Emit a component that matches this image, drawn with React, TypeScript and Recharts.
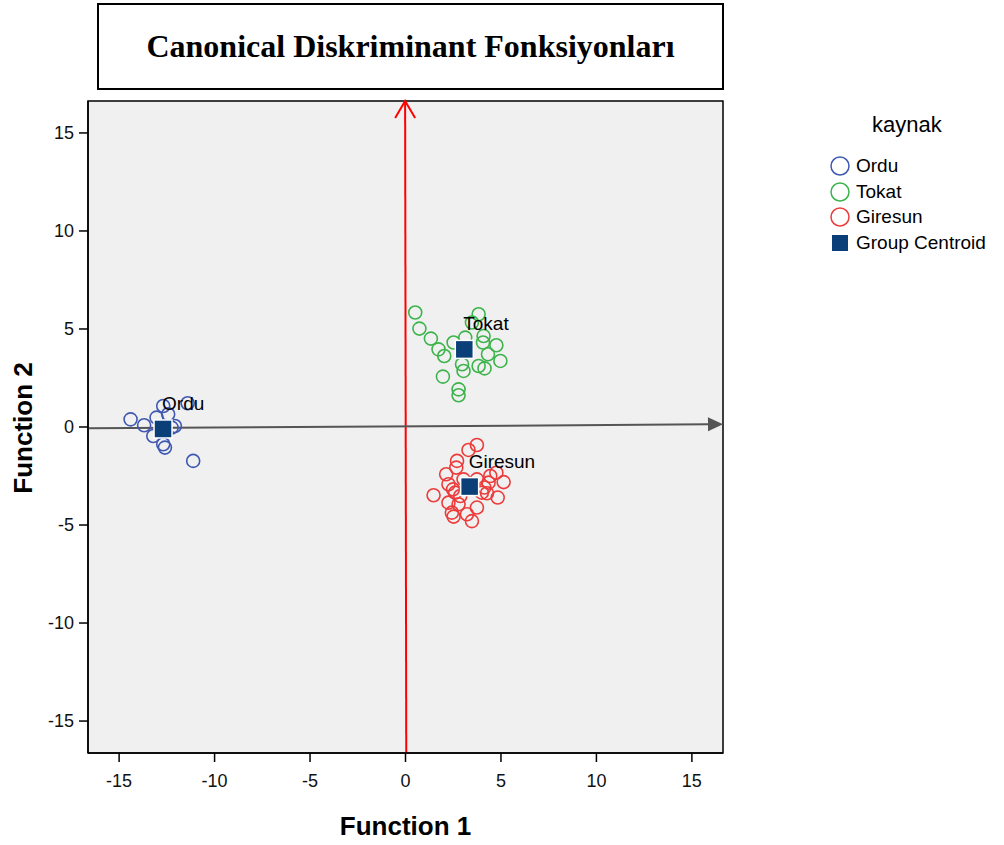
import React from 'react';
import {
  ScatterChart,
  Scatter,
  XAxis,
  YAxis,
  CartesianGrid,
  ReferenceLine,
  ReferenceArea
} from 'recharts';

// discriminant scores
const orduX = [-14.4, -13.69, -12.69, -11.41, -13.04, -12.43, -12.25, -13.21, -12.69, -12.6, -11.12, -12.08];
const orduY = [0.39, 0.09, 1.07, 1.21, 0.48, 0.65, -0.03, -0.46, -0.88, -1.05, -1.73, 0.05];

const tokatX = [0.51, 0.73, 1.33, 1.73, 2.03, 1.96, 2.78, 2.78, 2.96, 3.04, 3.13, 2.52, 3.83, 3.48, 4.09, 4.06, 4.76, 4.32, 4.97, 3.83, 4.14];
const tokatY = [5.84, 5.02, 4.51, 3.96, 3.62, 2.57, 1.92, 1.62, 3.2, 2.86, 4.56, 4.31, 5.75, 5.33, 4.64, 4.31, 4.17, 3.71, 3.37, 3.11, 2.99];

const giresunX = [3.74, 3.3, 2.7, 2.66, 2.13, 1.47, 2.25, 2.49, 2.6, 2.25, 2.43, 2.52, 2.78, 3.22, 3.48, 3.74, 4.0, 4.13, 4.44, 4.76, 5.14, 4.83, 4.35, 3.74, 3.04, 2.87, 4.27];
const giresunY = [-0.92, -1.17, -1.73, -2.07, -2.41, -3.48, -2.92, -3.18, -3.35, -3.86, -4.37, -4.57, -3.94, -4.45, -4.8, -4.11, -3.35, -3.09, -2.5, -2.33, -2.81, -3.6, -2.84, -2.67, -2.67, -3.52, -3.38];

const centroidNames = ['Ordu', 'Tokat', 'Giresun'];
const centroidX = [-12.7, 3.08, 3.36];
const centroidY = [-0.1, 3.96, -3.04];

// function axes drawn as arrows
const fn1AxisX = [-16.63, 16.63];
const fn1AxisY = [-0.07, 0.14];
const fn2AxisX = [0.04, -0.02];
const fn2AxisY = [-16.63, 16.63];

const ticks = [-15, -10, -5, 0, 5, 10, 15];
const DOMAIN: [number, number] = [-16.63, 16.63];

const FONT = '"Liberation Sans", Arial, sans-serif';

const toPoints = (xs: number[], ys: number[]) => xs.map((x, i) => ({ x, y: ys[i] }));

const groups = [
  { name: 'Ordu', color: '#3f58b2', data: toPoints(orduX, orduY) },
  { name: 'Tokat', color: '#3cb44b', data: toPoints(tokatX, tokatY) },
  { name: 'Giresun', color: '#ec3b3b', data: toPoints(giresunX, giresunY) }
];

const centroids = centroidNames.map((name, i) => ({ name, x: centroidX[i], y: centroidY[i] }));
const CENTROID_COLOR = '#0b3f78';

const circleShape = (color: string) => (props: any) => (
  <circle cx={props.cx} cy={props.cy} r={6.5} fill="none" stroke={color} strokeWidth={1.6} />
);

const centroidShape = (props: any) => (
  <g>
    <rect x={props.cx - 9} y={props.cy - 9} width={18} height={18} fill={CENTROID_COLOR} stroke="#fff" strokeWidth={1.5} />
    <text x={props.cx - 1} y={props.cy - 19} fontSize={19} fontFamily={FONT} fill="#000">
      {props.payload.name}
    </text>
  </g>
);

const grayArrow = (p: any) => {
  const { x1, y1, x2, y2 } = p;
  const a = Math.atan2(y2 - y1, x2 - x1);
  const len = 15;
  const hw = 7;
  const bx = x2 - len * Math.cos(a);
  const by = y2 - len * Math.sin(a);
  const px = -Math.sin(a) * hw;
  const py = Math.cos(a) * hw;
  return (
    <g>
      <line x1={x1} y1={y1} x2={bx} y2={by} stroke="#555" strokeWidth={2} />
      <polygon points={`${x2},${y2} ${bx + px},${by + py} ${bx - px},${by - py}`} fill="#555" />
    </g>
  );
};

const redArrow = (p: any) => {
  const { x1, y1, x2, y2 } = p;
  const a = Math.atan2(y2 - y1, x2 - x1);
  const len = 17;
  const hw = 10;
  const bx = x2 - len * Math.cos(a);
  const by = y2 - len * Math.sin(a);
  const px = -Math.sin(a) * hw;
  const py = Math.cos(a) * hw;
  return (
    <g>
      <line x1={x1} y1={y1} x2={x2} y2={y2} stroke="#ff0000" strokeWidth={2} />
      <polyline
        points={`${bx + px},${by + py} ${x2},${y2} ${bx - px},${by - py}`}
        fill="none"
        stroke="#ff0000"
        strokeWidth={2}
      />
    </g>
  );
};

const xTitle = (props: any) => {
  const { x, width } = props.viewBox;
  return (
    <text x={x + width / 2} y={835} textAnchor="middle" fontSize={26} fontWeight="bold" fontFamily={FONT} fill="#000">
      Function 1
    </text>
  );
};

const yTitle = () => (
  <text
    x={32}
    y={428}
    transform="rotate(-90 32 428)"
    textAnchor="middle"
    fontSize={26}
    fontWeight="bold"
    fontFamily={FONT}
    fill="#000"
  >
    Function 2
  </text>
);

function Legend() {
  const items = [
    ...groups.map((g) => ({ name: g.name, color: g.color, square: false })),
    { name: 'Group Centroid', color: CENTROID_COLOR, square: true }
  ];
  return (
    <div style={{ position: 'absolute', left: 828, top: 112, fontFamily: FONT }}>
      <div style={{ position: 'absolute', left: 44, top: 0, fontSize: 22, whiteSpace: 'nowrap' }}>kaynak</div>
      {items.map((it, i) => (
        <div
          key={it.name}
          style={{ position: 'absolute', left: 0, top: 42 + i * 25.5, display: 'flex', alignItems: 'center', whiteSpace: 'nowrap' }}
        >
          <svg width={24} height={24}>
            {it.square ? (
              <rect x={4} y={4} width={16} height={16} fill={it.color} />
            ) : (
              <circle cx={12} cy={12} r={9} fill="none" stroke={it.color} strokeWidth={1.5} />
            )}
          </svg>
          <span style={{ fontSize: 19, marginLeft: 4 }}>{it.name}</span>
        </div>
      ))}
    </div>
  );
}

export default function App() {
  return (
    <div style={{ position: 'absolute', left: 0, top: 0, width: 1004, height: 845, background: '#fff' }}>
      <div
        style={{
          position: 'absolute',
          left: 97,
          top: 3,
          width: 623,
          height: 83,
          border: '2px solid #000',
          display: 'flex',
          alignItems: 'center',
          justifyContent: 'center',
          fontFamily: '"Liberation Serif", "Times New Roman", serif',
          fontWeight: 'bold',
          fontSize: 32
        }}
      >
        Canonical Diskriminant Fonksiyonları
      </div>
      <ScatterChart width={1004} height={845} margin={{ top: 101, right: 281, bottom: 52, left: 28 }}>
        <CartesianGrid fill="#f0f0f0" horizontal={false} vertical={false} />
        <ReferenceArea
          x1={DOMAIN[0]}
          x2={DOMAIN[1]}
          y1={DOMAIN[0]}
          y2={DOMAIN[1]}
          fill="none"
          stroke="#000"
          strokeWidth={1.5}
          ifOverflow="visible"
        />
        <XAxis
          type="number"
          dataKey="x"
          domain={DOMAIN}
          ticks={ticks}
          allowDataOverflow
          height={40}
          tickSize={9}
          tickMargin={12}
          axisLine={{ stroke: '#000', strokeWidth: 1.5 }}
          tickLine={{ stroke: '#000', strokeWidth: 1.5 }}
          tick={{ fill: '#111', fontSize: 18, fontFamily: FONT }}
          label={{ content: xTitle }}
        />
        <YAxis
          type="number"
          dataKey="y"
          domain={DOMAIN}
          ticks={ticks}
          allowDataOverflow
          width={60}
          tickSize={9}
          tickMargin={5}
          axisLine={{ stroke: '#000', strokeWidth: 1.5 }}
          tickLine={{ stroke: '#000', strokeWidth: 1.5 }}
          tick={{ fill: '#111', fontSize: 18, fontFamily: FONT }}
          label={{ content: yTitle }}
        />
        <ReferenceLine
          segment={[
            { x: fn2AxisX[0], y: fn2AxisY[0] },
            { x: fn2AxisX[1], y: fn2AxisY[1] }
          ]}
          shape={redArrow}
          ifOverflow="visible"
        />
        <ReferenceLine
          segment={[
            { x: fn1AxisX[0], y: fn1AxisY[0] },
            { x: fn1AxisX[1], y: fn1AxisY[1] }
          ]}
          shape={grayArrow}
          ifOverflow="visible"
        />
        {groups.map((g) => (
          <Scatter key={g.name} name={g.name} data={g.data} shape={circleShape(g.color)} isAnimationActive={false} />
        ))}
        <Scatter name="Group Centroid" data={centroids} shape={centroidShape} isAnimationActive={false} />
      </ScatterChart>
      <Legend />
    </div>
  );
}
